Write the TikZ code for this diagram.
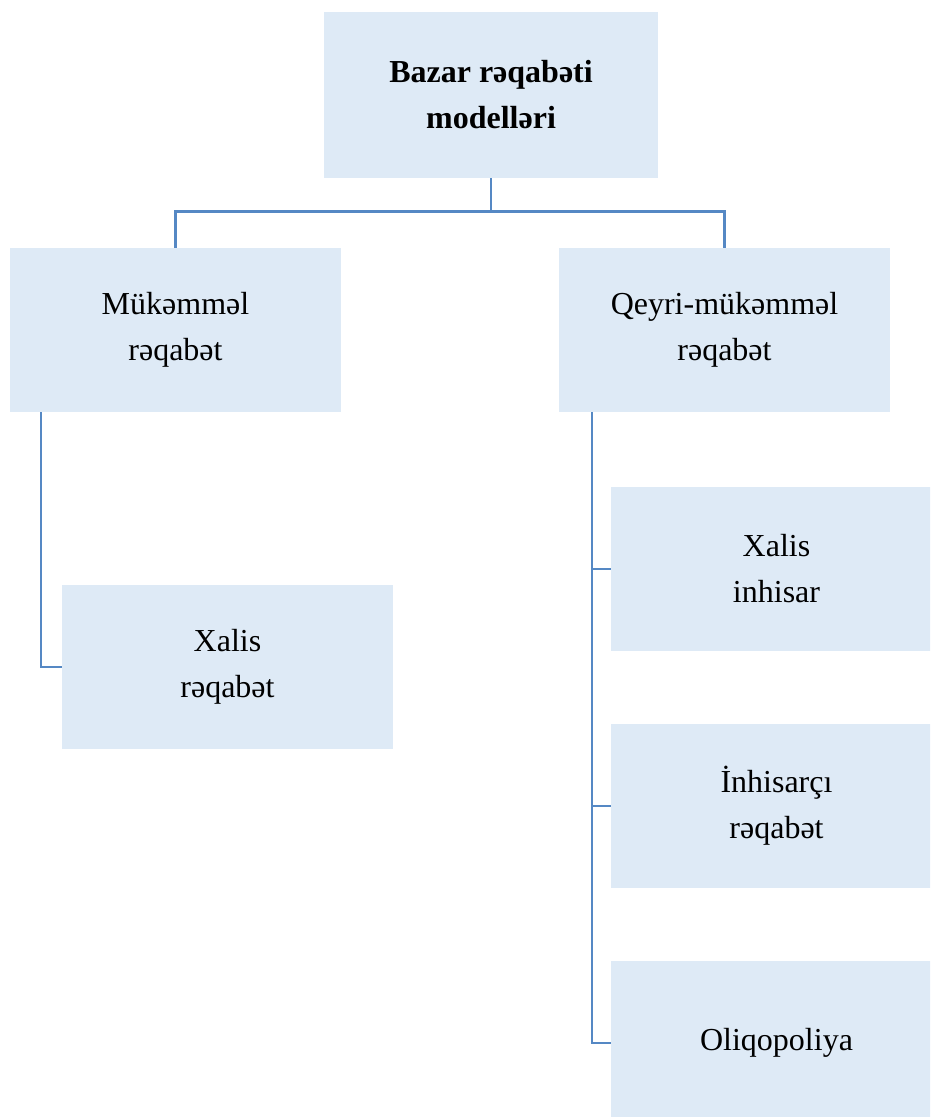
\documentclass[tikz,border=0pt]{standalone}
\usepackage{fontspec}
\setmainfont{Liberation Serif}
\definecolor{boxfill}{HTML}{DEEAF6}
\definecolor{linecol}{HTML}{5588C4}
\begin{document}
\begin{tikzpicture}[x=1pt,y=-1pt,
  box/.style={fill=boxfill, draw=none, inner sep=0pt, align=center,
    minimum width=331pt, minimum height=164pt,
    font=\fontsize{32}{46}\selectfont},
  conn/.style={draw=linecol, line width=2.8pt}]
\useasboundingbox (0,0) rectangle (930,1117);
\clip (0,0) rectangle (930,1117);
\node[box, minimum width=334pt, minimum height=166pt, font=\fontsize{32}{46}\selectfont\bfseries] (top) at (491,95) {Bazar rəqabəti\\modelləri};
\node[box] (mk) at (175.5,330) {Mükəmməl\\rəqabət};
\node[box] (qm) at (724.5,330) {Qeyri-mükəmməl\\rəqabət};
\node[box] (xr) at (227.5,667) {Xalis\\rəqabət};
\node[box] (xi) at (776.5,569) {Xalis\\inhisar};
\node[box] (ir) at (776.5,806) {İnhisarçı\\rəqabət};
\node[box] (ol) at (776.5,1043) {Oliqopoliya};
\draw[conn] (top.south) -- ++(0,33) -| (mk.north);
\draw[conn] (top.south) -- ++(0,33) -| (qm.north);
\draw[conn] ([xshift=-134.5pt]mk.south) |- (xr.west);
\draw[conn] ([xshift=-132.5pt]qm.south) |- (xi.west);
\draw[conn] ([xshift=-132.5pt]qm.south) |- (ir.west);
\draw[conn] ([xshift=-132.5pt]qm.south) |- (ol.west);
\end{tikzpicture}
\end{document}
